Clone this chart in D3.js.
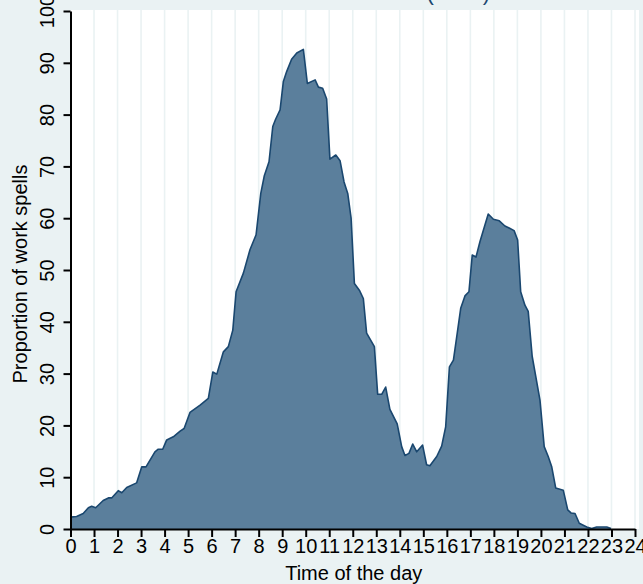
<!DOCTYPE html>
<html>
<head>
<meta charset="utf-8">
<script src="https://cdn.jsdelivr.net/npm/d3@7"></script>
<style>
  html, body { margin: 0; padding: 0; background: #eaf2f3; }
  svg { display: block; font-family: "Liberation Sans", Arial, Helvetica, sans-serif; }
</style>
</head>
<body>
<svg id="chart" width="643" height="584"></svg>
<script>
// ---- data ----
const titleText = "All workers (2010)";
const xTitle = "Time of the day";
const yTitle = "Proportion of work spells";
const xTicks = d3.range(0, 25);           // 0 .. 24 hours
const yTicks = d3.range(0, 101, 10);      // 0 .. 100

const hours = [
  0.00, 0.26, 0.54, 0.76, 0.90, 1.07, 1.39, 1.61, 1.75, 2.03,
  2.18, 2.39, 2.81, 3.03, 3.21, 3.59, 3.73, 3.92, 4.09, 4.37,
  4.66, 4.83, 5.08, 5.51, 5.86, 6.05, 6.22, 6.50, 6.71, 6.90,
  7.04, 7.35, 7.63, 7.89, 8.09, 8.24, 8.44, 8.60, 8.72, 8.91,
  9.05, 9.19, 9.40, 9.62, 9.90, 10.07, 10.40, 10.54, 10.72, 10.89,
  11.03, 11.28, 11.46, 11.63, 11.79, 11.93, 12.07, 12.28, 12.45, 12.59,
  12.92, 13.06, 13.23, 13.40, 13.58, 13.89, 14.08, 14.22, 14.39, 14.55,
  14.72, 14.97, 15.14, 15.28, 15.57, 15.78, 15.95, 16.11, 16.28, 16.42,
  16.59, 16.77, 16.94, 17.08, 17.24, 17.41, 17.76, 17.98, 18.23, 18.47,
  18.69, 18.86, 19.01, 19.14, 19.32, 19.46, 19.63, 19.96, 20.14, 20.31,
  20.46, 20.63, 20.95, 21.14, 21.28, 21.45, 21.63, 21.95, 22.16, 22.37,
  22.80, 22.98
];
const proportions = [
  2.3, 2.4, 3.0, 4.1, 4.4, 4.1, 5.5, 6.0, 6.0, 7.4,
  7.0, 8.0, 8.9, 12.0, 12.0, 14.9, 15.4, 15.4, 17.2, 17.8,
  18.9, 19.4, 22.5, 23.9, 25.2, 30.3, 29.9, 34.2, 35.2, 38.4,
  45.8, 49.4, 53.9, 56.8, 64.8, 68.2, 70.9, 77.7, 79.1, 80.9,
  86.4, 88.3, 90.7, 91.9, 92.6, 86.0, 86.7, 85.3, 85.1, 83.0,
  71.4, 72.2, 71.1, 67.0, 64.7, 60.0, 47.4, 46.1, 44.5, 37.8,
  35.2, 26.0, 26.0, 27.4, 23.1, 20.3, 15.9, 14.2, 14.6, 16.4,
  14.9, 16.2, 12.4, 12.2, 14.0, 16.0, 19.7, 31.3, 32.6, 37.1,
  42.6, 45.0, 45.8, 52.9, 52.5, 55.5, 60.8, 59.8, 59.5, 58.5,
  58.0, 57.6, 55.8, 45.8, 43.2, 42.0, 33.3, 24.9, 15.9, 14.0,
  12.0, 7.9, 7.5, 3.7, 3.1, 3.0, 1.1, 0.4, 0.1, 0.4,
  0.4, 0.1
];

// ---- layout ----
const W = 643, H = 584;
const plot = { left: 70.5, right: 635, top: 11, bottom: 529 };
const bg = "#eaf2f3";
const gridColor = "#eaf2f3";
const fillColor = "#5b7f9c";
const lineColor = "#1a476f";

const svg = d3.select("#chart");
svg.append("rect").attr("width", W).attr("height", H).attr("fill", bg);

const x = d3.scaleLinear().domain([0, 24]).range([plot.left, plot.right]);
const y = d3.scaleLinear().domain([0, 100]).range([plot.bottom, plot.top]);

// plot region
svg.append("rect")
  .attr("x", plot.left).attr("y", plot.top - 1)
  .attr("width", plot.right - plot.left + 4)
  .attr("height", plot.bottom - plot.top + 1)
  .attr("fill", "#ffffff");

// vertical gridlines
svg.append("g").selectAll("line")
  .data(xTicks.filter(d => d > 0))
  .join("line")
  .attr("x1", d => x(d)).attr("x2", d => x(d))
  .attr("y1", plot.top - 1).attr("y2", plot.bottom)
  .attr("stroke", gridColor).attr("stroke-width", 1.6);

// area
const data = hours.map((h, i) => ({ h, v: proportions[i] }));
svg.append("path").datum(data)
  .attr("d", d3.area().x(d => x(d.h)).y0(y(0)).y1(d => y(d.v)))
  .attr("fill", fillColor);
svg.append("path").datum(data)
  .attr("d", d3.line().x(d => x(d.h)).y(d => y(d.v)))
  .attr("fill", "none").attr("stroke", lineColor)
  .attr("stroke-width", 1.6).attr("stroke-linejoin", "round");

// y axis
const yAxis = svg.append("g")
  .attr("transform", `translate(${plot.left},0)`)
  .call(d3.axisLeft(y).tickValues(yTicks).tickSize(7).tickSizeOuter(0));
yAxis.select(".domain").attr("stroke", "#000").attr("stroke-width", 2);
yAxis.selectAll(".tick line").attr("stroke", "#000").attr("stroke-width", 2);
yAxis.selectAll(".tick text")
  .attr("x", null).attr("dy", null)
  .attr("text-anchor", "middle")
  .attr("transform", "translate(-17,0) rotate(-90)")
  .attr("font-size", 20).attr("fill", "#000")
  .attr("font-family", "Liberation Sans, Arial, sans-serif");

// x axis
const xAxis = svg.append("g")
  .attr("transform", `translate(0,${plot.bottom})`)
  .call(d3.axisBottom(x).tickValues(xTicks).tickSize(8).tickSizeOuter(0));
xAxis.select(".domain").attr("stroke", "#000").attr("stroke-width", 2);
xAxis.selectAll(".tick line").attr("stroke", "#000").attr("stroke-width", 2);
xAxis.selectAll(".tick text")
  .attr("y", 24).attr("dy", null)
  .attr("font-size", 20).attr("fill", "#000")
  .attr("font-family", "Liberation Sans, Arial, sans-serif");

// axis titles
svg.append("text")
  .attr("x", (plot.left + plot.right) / 2 + 1).attr("y", 580)
  .attr("text-anchor", "middle").attr("font-size", 20).attr("fill", "#000")
  .text(xTitle);
svg.append("text")
  .attr("transform", "translate(27,274) rotate(-90)")
  .attr("text-anchor", "middle").attr("font-size", 20).attr("fill", "#000")
  .text(yTitle);

// title (mostly above the visible frame, as in the reference)
svg.append("text")
  .attr("x", 490).attr("y", -0.5)
  .attr("text-anchor", "end").attr("font-size", 22).attr("fill", "#1a476f")
  .text(titleText);
</script>
</body>
</html>
